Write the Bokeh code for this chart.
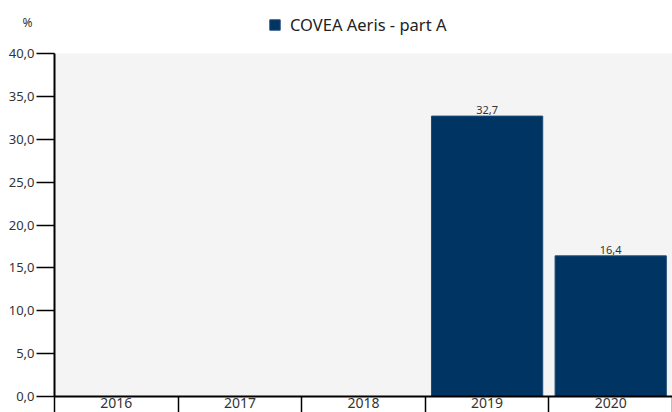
from bokeh.plotting import figure
from bokeh.models import ColumnDataSource, FixedTicker, Legend, LegendItem, Range1d, BoxAnnotation, Label
from bokeh.embed import file_html
from bokeh.resources import INLINE

years = ["2016", "2017", "2018", "2019", "2020"]
values = [None, None, None, 32.7, 16.4]
y_ticks = [0, 5, 10, 15, 20, 25, 30, 35, 40]
series_name = "COVEA Aeris - part A"
unit = "%"

FONT = "Noto Sans"
BAR = "#003462"

# layout (pixels): figure 672x412, grey plot area from x=54..672, y=53..396
W, H = 672, 412
PLOT_L, PLOT_W, PLOT_T, PLOT_B = 54, 618, 53, 396
y_max = y_ticks[-1]
n = len(years)

xs = [i + 0.5 for i in range(n)]
vals = [float("nan") if v is None else v for v in values]
src = ColumnDataSource(dict(x=xs, top=vals))

lab_x = [xs[i] for i, v in enumerate(values) if v is not None]
lab_y = [v for v in values if v is not None]
lab_t = [f"{v:.1f}".replace(".", ",") for v in values if v is not None]
lsrc = ColumnDataSource(dict(x=lab_x, y=lab_y, t=lab_t))

x_start = -n * PLOT_L / PLOT_W
ppu = (PLOT_B - PLOT_T) / y_max          # pixels per y unit
y_start = -(H - PLOT_B) / ppu
y_end = y_max + PLOT_T / ppu

p = figure(width=W, height=H, output_backend="svg", toolbar_location=None,
           x_range=Range1d(x_start, n), y_range=Range1d(y_start, y_end),
           min_border_left=0, min_border_top=0, min_border_right=0, min_border_bottom=0)
p.background_fill_color = "white"
p.border_fill_color = "white"
p.outline_line_color = None
p.grid.visible = False

p.add_layout(BoxAnnotation(bottom=0, top=y_max, left=0, right=n, fill_color="#f4f4f4",
                           fill_alpha=1, line_color=None, level="underlay"))

r = p.vbar(x="x", top="top", width=0.9, bottom=0, source=src,
           fill_color=BAR, line_color="#1d4a78", line_width=1)
p.text(x="x", y="y", text="t", source=lsrc, text_align="center", text_baseline="bottom",
       y_offset=-2, text_font_size="11px", text_color="#333333", text_font={"value": FONT})

# x axis
xa = p.xaxis[0]
xa.fixed_location = 0
xa.ticker = FixedTicker(ticks=xs, minor_ticks=list(range(n + 1)))
xa.bounds = (0, n)
xa.major_label_overrides = {x: y for x, y in zip(xs, years)}
xa.major_tick_line_color = None
xa.major_tick_out = 0
xa.major_tick_in = 0
xa.minor_tick_out = 16
xa.minor_tick_in = 0
xa.minor_tick_line_color = "black"
xa.minor_tick_line_width = 1.5
xa.axis_line_color = "black"
xa.axis_line_width = 2
xa.major_label_standoff = -15
xa.major_label_text_font = FONT
xa.major_label_text_font_size = "14px"
xa.major_label_text_color = "#333333"

ya = p.yaxis[0]
ya.fixed_location = 0
ya.ticker = FixedTicker(ticks=y_ticks, minor_ticks=[])
ya.bounds = (0, y_max)
ya.major_label_overrides = {v: f"{v:.1f}".replace(".", ",") for v in y_ticks}
ya.major_tick_out = 18
ya.major_tick_in = 0
ya.major_tick_line_color = "black"
ya.major_tick_line_width = 1.5
ya.axis_line_color = "black"
ya.axis_line_width = 2
ya.major_label_standoff = 2
ya.major_label_text_font = FONT
ya.major_label_text_font_size = "13px"
ya.major_label_text_color = "#333333"

legend = Legend(items=[LegendItem(label=series_name, renderers=[r])],
                location=(268, 376), orientation="horizontal",
                border_line_color=None, background_fill_alpha=0,
                padding=0, margin=0, glyph_width=13, glyph_height=13,
                label_text_font=FONT, label_text_font_size="16.5px", label_text_color="#222222",
                label_standoff=9)
p.add_layout(legend, "center")

p.add_layout(Label(x=22, y=382, x_units="screen", y_units="screen", text=unit,
                   text_font=FONT, text_font_size="12px", text_color="#333333"))

open("out.html", "w").write(file_html(p, INLINE))
